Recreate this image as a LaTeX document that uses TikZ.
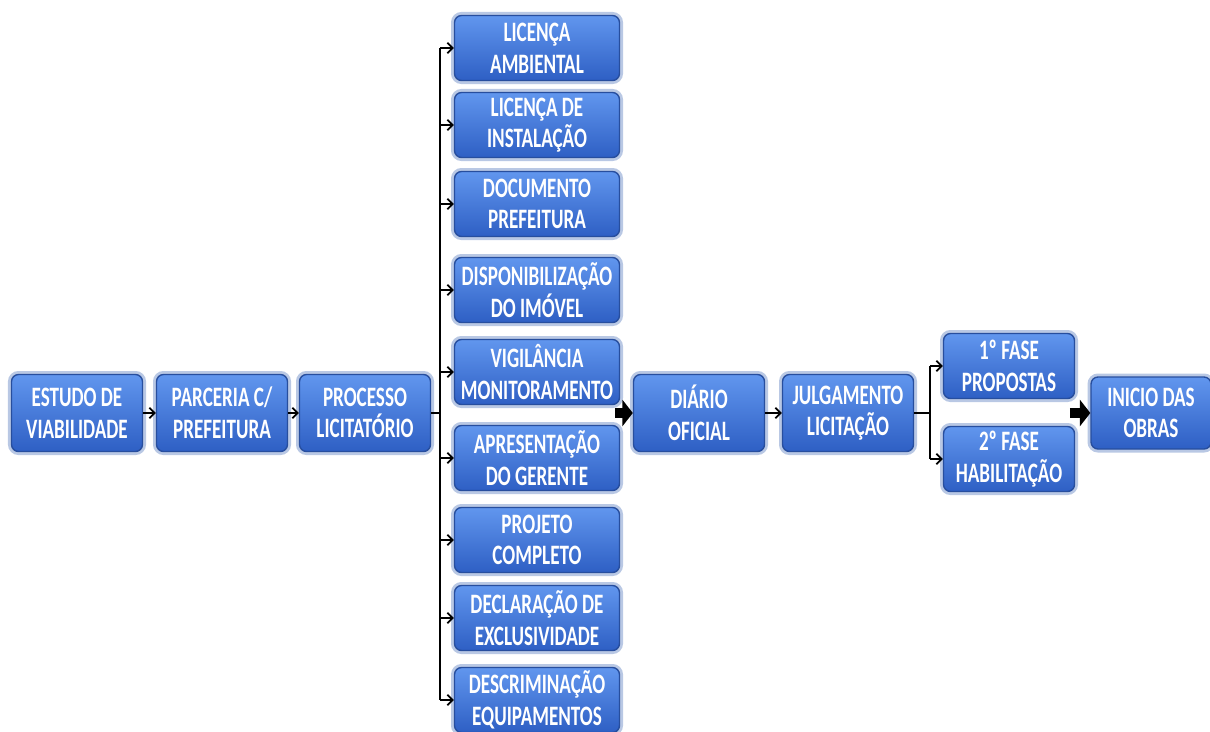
\documentclass[tikz,border=0pt]{standalone}
\usepackage{fontspec}
\usepackage{tikz}
\usetikzlibrary{arrows.meta}
\newfontfamily\boxfam{Carlito}[FakeStretch=0.68]
\definecolor{boxtop}{HTML}{6196EE}
\definecolor{boxbot}{HTML}{2E5FC4}
\definecolor{boxedge}{HTML}{274E9E}
\definecolor{boxglow}{HTML}{B9C8E4}

\tikzset{
  stepbox/.style={rectangle, rounded corners=4pt, draw=boxedge, line width=0.8pt,
    top color=boxtop, bottom color=boxbot, text=white, align=center,
    font=\boxfam\bfseries\fontsize{16}{18}\selectfont, inner sep=1pt,
    minimum width=2.62cm, minimum height=1.54cm,
    preaction={draw=boxglow, line width=4pt, rounded corners=6pt}},
  docbox/.style={stepbox, minimum width=3.3cm, minimum height=1.3cm},
  seta/.style={-{Straight Barb[length=3pt,width=6pt]}, line width=1pt},
  setagrossa/.style={-{Triangle[length=6pt,width=15pt]}, line width=6pt, shorten <=-3pt}
}

\begin{document}
\begin{tikzpicture}[x=0.02cm,y=-0.02cm]
\useasboundingbox (0,0) rectangle (1210,731);

% fluxo principal
\node[stepbox] (estudo) at (77,413) {ESTUDO DE\\VIABILIDADE};
\node[stepbox] (parceria) at (222,413) {PARCERIA C/\\PREFEITURA};
\node[stepbox] (processo) at (365,413) {PROCESSO\\LICITATÓRIO};

% documentos
\node[docbox] (lic1) at (537,48) {LICENÇA\\AMBIENTAL};
\node[docbox] (lic2) at (537,125) {LICENÇA DE\\INSTALAÇÃO};
\node[docbox] (docpref) at (537,204) {DOCUMENTO\\PREFEITURA};
\node[docbox] (imovel) at (537,290) {DISPONIBILIZAÇÃO\\DO IMÓVEL};
\node[docbox] (vigil) at (537,372) {VIGILÂNCIA\\MONITORAMENTO};
\node[docbox] (gerente) at (537,458) {APRESENTAÇÃO\\DO GERENTE};
\node[docbox] (projeto) at (537,540) {PROJETO\\COMPLETO};
\node[docbox] (declar) at (537,618) {DECLARAÇÃO DE\\EXCLUSIVIDADE};
\node[docbox] (equip) at (537,700) {DESCRIMINAÇÃO\\EQUIPAMENTOS};

\node[stepbox] (diario) at (699,413) {DIÁRIO\\OFICIAL};
\node[stepbox] (julga) at (848,413) {JULGAMENTO\\LICITAÇÃO};
\node[stepbox, minimum height=1.3cm] (fase1) at (1009,366) {1º FASE\\PROPOSTAS};
\node[stepbox, minimum height=1.3cm] (fase2) at (1009,459) {2º FASE\\HABILITAÇÃO};
\node[stepbox, minimum width=2.4cm, minimum height=1.44cm] (obras) at (1151,413) {INICIO DAS\\OBRAS};

\coordinate (tronco) at (440,413);
\coordinate (ramo) at (930,413);

\draw[seta] (estudo) -- (parceria);
\draw[seta] (parceria) -- (processo);
\draw[line width=1pt] (processo) -- (tronco);
\draw[line width=1pt] (tronco |- lic1.west) -- (tronco |- equip.west);
\foreach \doc in {lic1,lic2,docpref,imovel,vigil,gerente,projeto,declar,equip}{
  \draw[seta] (tronco |- \doc.west) -- (\doc.west);
}
\draw[setagrossa] (vigil.east |- tronco) -- (diario.west);
\draw[seta] (diario) -- (julga);
\draw[line width=1pt] (julga) -- (ramo);
\draw[line width=1pt] (ramo |- fase1.west) -- (ramo |- fase2.west);
\draw[seta] (ramo |- fase1.west) -- (fase1.west);
\draw[seta] (ramo |- fase2.west) -- (fase2.west);
\draw[setagrossa] (fase1.east |- ramo) -- (obras.west);

\end{tikzpicture}
\end{document}
